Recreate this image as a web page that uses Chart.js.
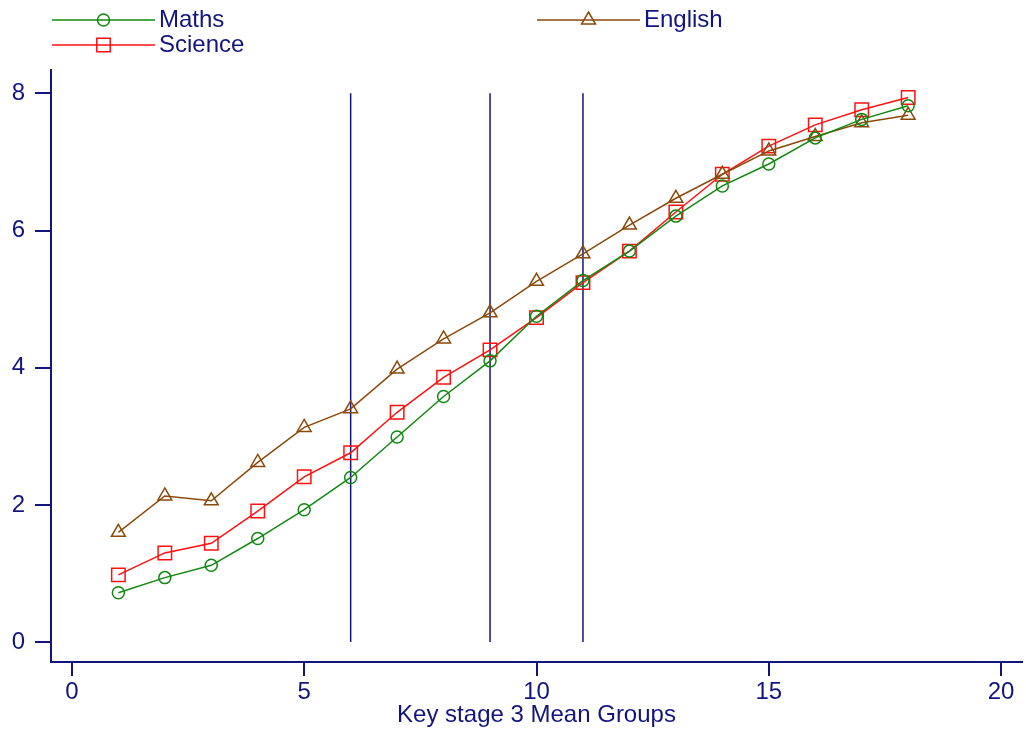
<!DOCTYPE html>
<html>
<head>
<meta charset="utf-8">
<script src="https://cdn.jsdelivr.net/npm/chart.js@4.4.1/dist/chart.umd.min.js"></script>
<style>
  html, body { margin: 0; background: #fff; }
</style>
</head>
<body>
<canvas id="chart" width="1026" height="732"></canvas>
<script>
// data
const groups = [1, 2, 3, 4, 5, 6, 7, 8, 9, 10, 11, 12, 13, 14, 15, 16, 17, 18];
const maths = [0.72, 0.94, 1.12, 1.51, 1.93, 2.40, 2.99, 3.58, 4.10, 4.75, 5.27, 5.70, 6.21, 6.65, 6.97, 7.35, 7.62, 7.82];
const science = [0.98, 1.30, 1.44, 1.91, 2.41, 2.76, 3.35, 3.86, 4.26, 4.73, 5.24, 5.70, 6.27, 6.82, 7.23, 7.54, 7.76, 7.94];
const english = [1.60, 2.13, 2.06, 2.62, 3.13, 3.40, 3.98, 4.42, 4.80, 5.26, 5.66, 6.08, 6.47, 6.82, 7.16, 7.37, 7.57, 7.68];
const xTicks = [0, 5, 10, 15, 20];
const yTicks = [0, 2, 4, 6, 8];
const cutPoints = [6, 9, 11];
const cutSpan = [0, 8];

const navy = "#14147f";
const font = { family: "'Liberation Sans', Arial, sans-serif", size: 24 };

const toPoints = vals => groups.map((g, i) => ({ x: g, y: vals[i] }));

function series(label, vals, color, style, radius) {
  return {
    label,
    data: toPoints(vals),
    borderColor: color,
    backgroundColor: "rgba(0,0,0,0)",
    borderWidth: 1.5,
    pointStyle: style,
    pointRadius: radius,
    pointBorderWidth: 1.5,
    pointBackgroundColor: "rgba(0,0,0,0)",
    pointBorderColor: color,
    tension: 0
  };
}

// vertical cut lines, drawn behind the series
const cutSets = cutPoints.map(c => ({
  label: "cut " + c,
  data: cutSpan.map(v => ({ x: c, y: v })),
  borderColor: navy,
  borderWidth: 1.5,
  pointRadius: 0
}));

// legend in two columns above the plot
const legendPlugin = {
  id: "topLegend",
  afterDraw(chart, args, opts) {
    const ctx = chart.ctx;
    ctx.save();
    chart.data.datasets.forEach(ds => {
      const slot = opts.slots[ds.label];
      if (!slot) return;
      const [x, y] = slot;
      ctx.strokeStyle = ds.borderColor;
      ctx.lineWidth = 1.5;
      ctx.beginPath();
      ctx.moveTo(x, y);
      ctx.lineTo(x + opts.lineLen, y);
      ctx.stroke();
      ctx.fillStyle = "rgba(0,0,0,0)";
      Chart.helpers.drawPoint(ctx, {
        pointStyle: ds.pointStyle,
        radius: ds.pointRadius,
        borderWidth: 1.5,
        rotation: 0
      }, x + opts.lineLen / 2, y);
      ctx.fillStyle = navy;
      ctx.font = font.size + "px " + font.family;
      ctx.textBaseline = "middle";
      ctx.textAlign = "left";
      ctx.fillText(ds.label, x + opts.lineLen + 4, y);
    });
    ctx.restore();
  }
};

new Chart(document.getElementById("chart"), {
  type: "line",
  data: {
    datasets: [
      series("Maths", maths, "#118811", "circle", 6),
      series("English", english, "#8a4a0a", "triangle", 8),
      series("Science", science, "#ff1010", "rect", 9.5),
      ...cutSets
    ]
  },
  options: {
    responsive: false,
    animation: false,
    layout: { autoPadding: false, padding: { top: 70, right: 4, left: 0, bottom: 0 } },
    plugins: {
      legend: { display: false },
      tooltip: { enabled: false },
      topLegend: {
        lineLen: 103,
        slots: { Maths: [52, 20], Science: [52, 45], English: [537, 20] }
      }
    },
    scales: {
      x: {
        type: "linear",
        min: -0.45,
        max: 20.45,
        afterBuildTicks: s => { s.ticks = xTicks.map(v => ({ value: v })); },
        afterFit: s => { s.height = 70; s.paddingLeft = 0; s.paddingRight = 0; },
        grid: { drawOnChartArea: false, drawTicks: true, tickLength: 14, color: navy, lineWidth: 2 },
        border: { display: true, color: navy, width: 2 },
        ticks: { color: navy, font, padding: 2, maxRotation: 0 },
        title: { display: true, text: "Key stage 3 Mean Groups", color: navy, font, padding: { top: 0, bottom: 2 } }
      },
      y: {
        type: "linear",
        min: -0.29,
        max: 8.34,
        afterBuildTicks: s => { s.ticks = yTicks.map(v => ({ value: v })); },
        afterFit: s => { s.width = 51; s.paddingTop = 0; s.paddingBottom = 0; },
        grid: { drawOnChartArea: false, drawTicks: true, tickLength: 16, color: navy, lineWidth: 2 },
        border: { display: true, color: navy, width: 2 },
        ticks: { color: navy, font, padding: 10 }
      }
    }
  },
  plugins: [legendPlugin]
});
</script>
</body>
</html>
